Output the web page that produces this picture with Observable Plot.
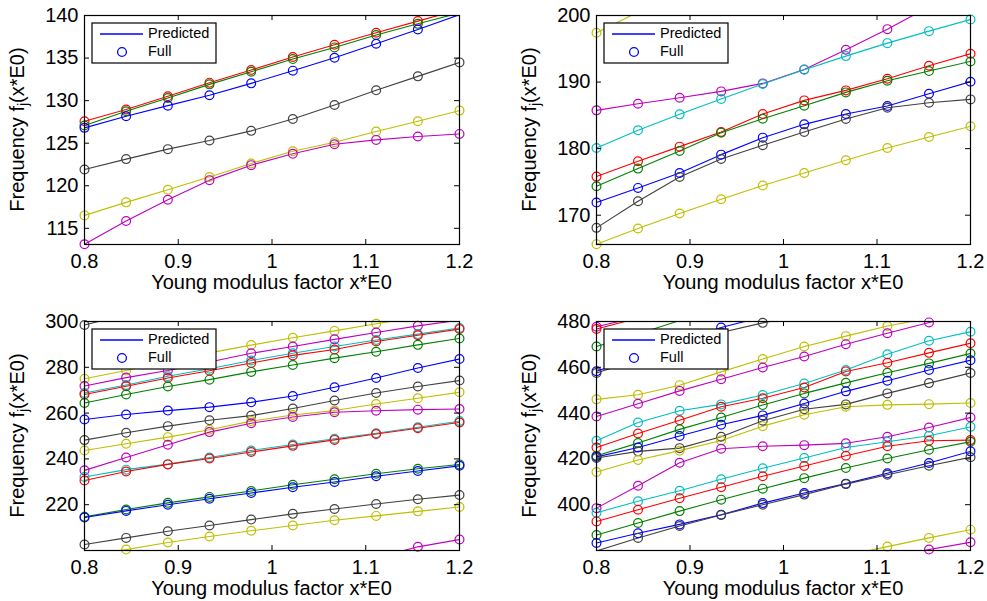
<!DOCTYPE html>
<html>
<head>
<meta charset="utf-8">
<script src="https://cdn.jsdelivr.net/npm/d3@7"></script>
<script src="https://cdn.jsdelivr.net/npm/@observablehq/plot@0.6"></script>
<style>
  body { margin: 0; background: #fff; }
  #wrap { position: relative; width: 987px; height: 601px; background: #fff; }
  .panel { position: absolute; }
  svg { font-family: "Liberation Sans", Arial, Helvetica, sans-serif; }
</style>
</head>
<body>
<div id="wrap"></div>
<script>
// ---------------- data ----------------
const xFactor = [0.8, 0.8444, 0.8889, 0.9333, 0.9778, 1.0222, 1.0667, 1.1111, 1.1556, 1.2];
const xTicks = [0.8, 0.9, 1, 1.1, 1.2];

// panel 1 (top-left)
const p1Red     = [127.58,128.95,130.51,132.11,133.59,135.12,136.56,137.97,139.34,140.7];
const p1Green   = [127.07,128.75,130.31,131.91,133.40,134.88,136.25,137.70,139.02,140.3];
const p1Blue    = [126.80,128.16,129.41,130.63,132.03,133.52,135.04,136.68,138.36,140.1];
const p1Gray    = [121.91,123.13,124.30,125.31,126.45,127.85,129.49,131.21,132.85,134.49];
const p1Yellow  = [116.52,118.05,119.53,121.02,122.62,124.06,125.12,126.37,127.58,128.83];
const p1Magenta = [113.13,115.86,118.36,120.66,122.42,123.75,124.88,125.39,125.78,126.09];
const p1YTicks = [115, 120, 125, 130, 135, 140];

// panel 2 (top-right)
const p2YellowHi = [197.4,200.5,null,null,null,null,null,null,null,null];
const p2Magenta  = [185.75,186.75,187.65,188.6,189.8,191.9,194.85,197.95,201.3,null];
const p2Cyan     = [180.1,182.75,185.15,187.45,189.7,191.85,193.9,195.85,197.65,199.4];
const p2Red      = [175.8,178.1,180.3,182.5,185.2,187.25,188.75,190.5,192.45,194.25];
const p2Green    = [174.35,177.0,179.65,182.4,184.5,186.45,188.45,190.2,191.65,193.1];
const p2Blue     = [171.9,174.1,176.35,179.1,181.65,183.65,185.2,186.4,188.25,190.05];
const p2Gray     = [168.1,172.1,175.75,178.45,180.5,182.5,184.45,186.15,186.9,187.4];
const p2YellowLo = [165.65,168.0,170.25,172.4,174.45,176.35,178.25,180.1,181.75,183.35];
const p2YTicks = [170, 180, 190, 200];

// panel 3 (bottom-left)
const p3GrayHi    = [298.5,303,null,null,null,null,null,null,null,null];
const p3YellowHi  = [275.0,278.6,282.6,286.3,289.7,292.9,295.9,299.0,302.0,null];
const p3MagentaHi = [271.8,275.5,278.6,282.3,286.1,289.1,292.2,295.2,298.1,300.6];
const p3CyanHi    = [268.8,272.3,276.1,279.4,283.0,286.1,289.1,291.9,294.5,297.2];
const p3RedHi     = [268.1,271.7,275.3,278.5,281.9,285.2,287.8,291.3,294.0,296.7];
const p3GreenHi   = [264.4,268.1,271.6,274.6,278.0,281.0,284.0,286.8,289.8,292.6];
const p3Blue      = [257.2,259.4,261.1,262.6,264.7,267.5,271.3,275.3,279.7,283.6];
const p3Gray      = [248.2,251.4,254.3,256.9,258.9,262.0,265.5,268.8,271.6,274.2];
const p3Yellow    = [243.7,246.6,249.5,252.7,256.5,259.2,261.1,264.0,266.5,269.1];
const p3Magenta   = [235.0,240.6,246.2,251.7,255.6,258.3,260.4,261.0,261.5,261.8];
const p3Cyan      = [232.1,235.3,237.7,240.6,243.7,246.3,248.8,251.2,253.8,256.5];
const p3Red       = [230.6,234.5,237.6,240.2,243.0,245.7,248.3,250.9,253.4,255.9];
const p3Green     = [214.7,217.9,220.8,223.4,226.0,228.7,231.1,233.5,235.7,237.6];
const p3BlueLo    = [214.4,217.3,220.0,222.6,225.1,227.6,229.9,232.4,234.7,237.0];
const p3GrayLo    = [202.6,205.5,208.4,210.9,213.5,216.0,218.1,220.3,222.4,224.2];
const p3YellowLo  = [197.8,200.4,203.5,206.1,208.6,210.9,213.2,215.1,217.1,219.0];
const p3MagentaLo = [null,null,null,null,null,null,null,196.8,201.6,204.8];
const p3YTicks = [220, 240, 260, 280, 300];

// panel 4 (bottom-right)
const p4MagentaTop = [477.7,482,null,null,null,null,null,null,null,null];
const p4RedTop     = [476.7,481.5,null,null,null,null,null,null,null,null];
const p4GreenTop   = [469.1,474.5,480.4,null,null,null,null,null,null,null];
const p4BlueTop    = [458.3,464.5,471.0,477.4,482.0,null,null,null,null,null];
const p4GrayTop    = [457.5,463.5,469.5,475.2,479.4,483.0,null,null,null,null];
const p4YellowHi   = [446.0,448.0,452.2,458.0,463.6,469.1,473.6,478.0,481.5,null];
const p4MagentaHi  = [438.5,444.1,449.7,454.8,459.9,464.7,470.1,474.9,479.6,483.5];
const p4CyanHi     = [427.9,435.9,441.0,443.8,447.9,452.9,458.8,465.7,471.6,475.5];
const p4RedHi      = [425.0,431.1,436.9,442.8,446.5,451.2,458.2,462.0,466.3,470.5];
const p4GreenHi    = [421.4,426.9,432.9,438.1,443.5,448.6,453.2,457.6,461.7,466.0];
const p4BlueHi     = [420.9,425.0,430.0,434.9,439.0,444.2,449.5,454.1,458.8,463.1];
const p4GrayHi     = [420.4,423.3,424.7,429.7,436.7,441.7,443.8,448.6,453.1,457.5];
const p4YellowMid  = [414.3,419.5,423.6,428.0,434.3,439.3,442.8,443.6,443.9,444.4];
const p4MagentaMid = [398.5,408.3,418.3,424.4,425.5,426.0,426.8,429.7,433.7,438.1];
const p4CyanLo     = [396.5,401.5,406.1,411.1,415.9,420.4,425.0,427.5,430.1,434.0];
const p4RedLo      = [392.7,397.8,402.8,407.6,412.4,416.9,421.4,425.5,427.9,428.2];
const p4GreenLo    = [386.8,392.0,397.2,402.2,407.0,411.6,416.0,420.2,424.0,427.5];
const p4BlueLo     = [383.3,387.5,391.4,395.6,400.7,405.1,409.2,413.7,418.2,423.3];
const p4GrayLo     = [379.8,385.5,390.7,395.5,400.0,404.4,409.0,413.1,417.0,420.7];
const p4YellowLo   = [null,null,null,null,null,null,377.8,381.7,385.5,389.1];
const p4MagentaLo  = [null,null,null,null,null,null,null,377.0,380.4,383.6];
const p4YTicks = [400, 420, 440, 460, 480];

// MATLAB colours
const C = {b:"#0000ff", g:"#008000", r:"#ff0000", c:"#00bfbf", m:"#bf00bf", y:"#bfbf00", k:"#404040"};

const panels = [
  {left:0, top:0, width:493, height:300, mt:15, mb:56, ml:84, mr:34, yDomain:[113.1,140], yTicks:p1YTicks,
   series:[["r",p1Red],["g",p1Green],["b",p1Blue],["k",p1Gray],["y",p1Yellow],["m",p1Magenta]]},
  {left:493, top:0, width:494, height:300, mt:15, mb:56, ml:103, mr:17, yDomain:[165.6,200], yTicks:p2YTicks,
   series:[["y",p2YellowHi],["m",p2Magenta],["c",p2Cyan],["r",p2Red],["g",p2Green],["b",p2Blue],["k",p2Gray],["y",p2YellowLo]]},
  {left:0, top:300, width:493, height:301, mt:21, mb:51, ml:84, mr:34, yDomain:[200,300], yTicks:p3YTicks,
   series:[["k",p3GrayHi],["y",p3YellowHi],["m",p3MagentaHi],["c",p3CyanHi],["r",p3RedHi],["g",p3GreenHi],["b",p3Blue],["k",p3Gray],["y",p3Yellow],["m",p3Magenta],["c",p3Cyan],["r",p3Red],["g",p3Green],["b",p3BlueLo],["k",p3GrayLo],["y",p3YellowLo],["m",p3MagentaLo]]},
  {left:493, top:300, width:494, height:301, mt:21, mb:51, ml:103, mr:17, yDomain:[380,480], yTicks:p4YTicks,
   series:[["m",p4MagentaTop],["r",p4RedTop],["g",p4GreenTop],["b",p4BlueTop],["k",p4GrayTop],["y",p4YellowHi],["m",p4MagentaHi],["c",p4CyanHi],["r",p4RedHi],["g",p4GreenHi],["b",p4BlueHi],["k",p4GrayHi],["y",p4YellowMid],["m",p4MagentaMid],["c",p4CyanLo],["r",p4RedLo],["g",p4GreenLo],["b",p4BlueLo],["k",p4GrayLo],["y",p4YellowLo],["m",p4MagentaLo]]}
];

const wrap = document.getElementById("wrap");
const FS = 20;

panels.forEach((P, pi) => {
  const rows = [];
  P.series.forEach(([c, vals], si) => {
    vals.forEach((v, i) => { if (v != null) rows.push({x: xFactor[i], y: v, s: si, color: C[c]}); });
  });
  const inDomain = rows.filter(d => d.y >= P.yDomain[0] && d.y <= P.yDomain[1]);
  const pw = P.width - P.ml - P.mr;
  const ph = P.height - P.mt - P.mb;

  const svg = Plot.plot({
    width: P.width, height: P.height,
    marginLeft: P.ml, marginRight: P.mr, marginTop: P.mt, marginBottom: P.mb,
    style: {fontSize: FS + "px", fontFamily: '"Liberation Sans", Arial, Helvetica, sans-serif', color: "#000", background: "#fff"},
    x: {domain: [0.8, 1.2]},
    y: {domain: P.yDomain},
    marks: [
      Plot.line(rows, {x: "x", y: "y", z: "s", stroke: "color", strokeWidth: 1.1, clip: true}),
      Plot.dot(inDomain, {x: "x", y: "y", stroke: "color", r: 4.4, strokeWidth: 1.2, fill: "none"}),
      Plot.tickX(xTicks, {x: d => d, insetTop: ph - 5, stroke: "#000"}),
      Plot.tickX(xTicks, {x: d => d, insetBottom: ph - 5, stroke: "#000"}),
      Plot.tickY(P.yTicks, {y: d => d, insetRight: pw - 5, stroke: "#000"}),
      Plot.tickY(P.yTicks, {y: d => d, insetLeft: pw - 5, stroke: "#000"}),
      Plot.frame({stroke: "#000", strokeWidth: 1.2}),
      Plot.axisX(xTicks, {tickSize: 0, tickPadding: 9, tickFormat: d => String(d), label: null, fontSize: FS}),
      Plot.axisY(P.yTicks, {tickSize: 0, tickPadding: 6, tickFormat: d => String(d), label: null, fontSize: FS})
    ]
  });

  const s = d3.select(svg);
  // x axis label
  s.append("text")
    .attr("x", P.ml + pw / 2).attr("y", P.mt + ph + 45)
    .attr("text-anchor", "middle").attr("font-size", FS).attr("fill", "#000")
    .text("Young modulus factor x*E0");
  // y axis label with subscript
  const yl = s.append("text")
    .attr("transform", `translate(${P.ml - 65},${P.mt + ph / 2}) rotate(-90)`)
    .attr("text-anchor", "middle").attr("dominant-baseline", "middle")
    .attr("font-size", FS).attr("fill", "#000");
  yl.append("tspan").text("Frequency f");
  yl.append("tspan").attr("font-size", 14).attr("dy", 5).text("j");
  yl.append("tspan").attr("dy", -5).text("(x*E0)");

  // legend box
  const lx = P.ml + 8, ly = P.mt + 8;
  const lg = s.append("g").attr("text-anchor", "start");
  lg.append("rect").attr("x", lx).attr("y", ly).attr("width", 124).attr("height", 40)
    .attr("fill", "#fff").attr("stroke", "#000").attr("stroke-width", 1.2);
  lg.append("line").attr("x1", lx + 8).attr("x2", lx + 51).attr("y1", ly + 11).attr("y2", ly + 11)
    .attr("stroke", C.b).attr("stroke-width", 1.3);
  lg.append("circle").attr("cx", lx + 30).attr("cy", ly + 29).attr("r", 4.4)
    .attr("fill", "none").attr("stroke", C.b).attr("stroke-width", 1.3);
  lg.append("text").attr("x", lx + 56).attr("y", ly + 11).attr("dominant-baseline", "middle")
    .attr("text-anchor", "start").attr("font-size", 14.5).attr("fill", "#000").text("Predicted");
  lg.append("text").attr("x", lx + 56).attr("y", ly + 29).attr("dominant-baseline", "middle")
    .attr("text-anchor", "start").attr("font-size", 14.5).attr("fill", "#000").text("Full");

  const div = document.createElement("div");
  div.className = "panel";
  div.style.left = P.left + "px";
  div.style.top = P.top + "px";
  div.appendChild(svg);
  wrap.appendChild(div);
});
</script>
</body>
</html>
